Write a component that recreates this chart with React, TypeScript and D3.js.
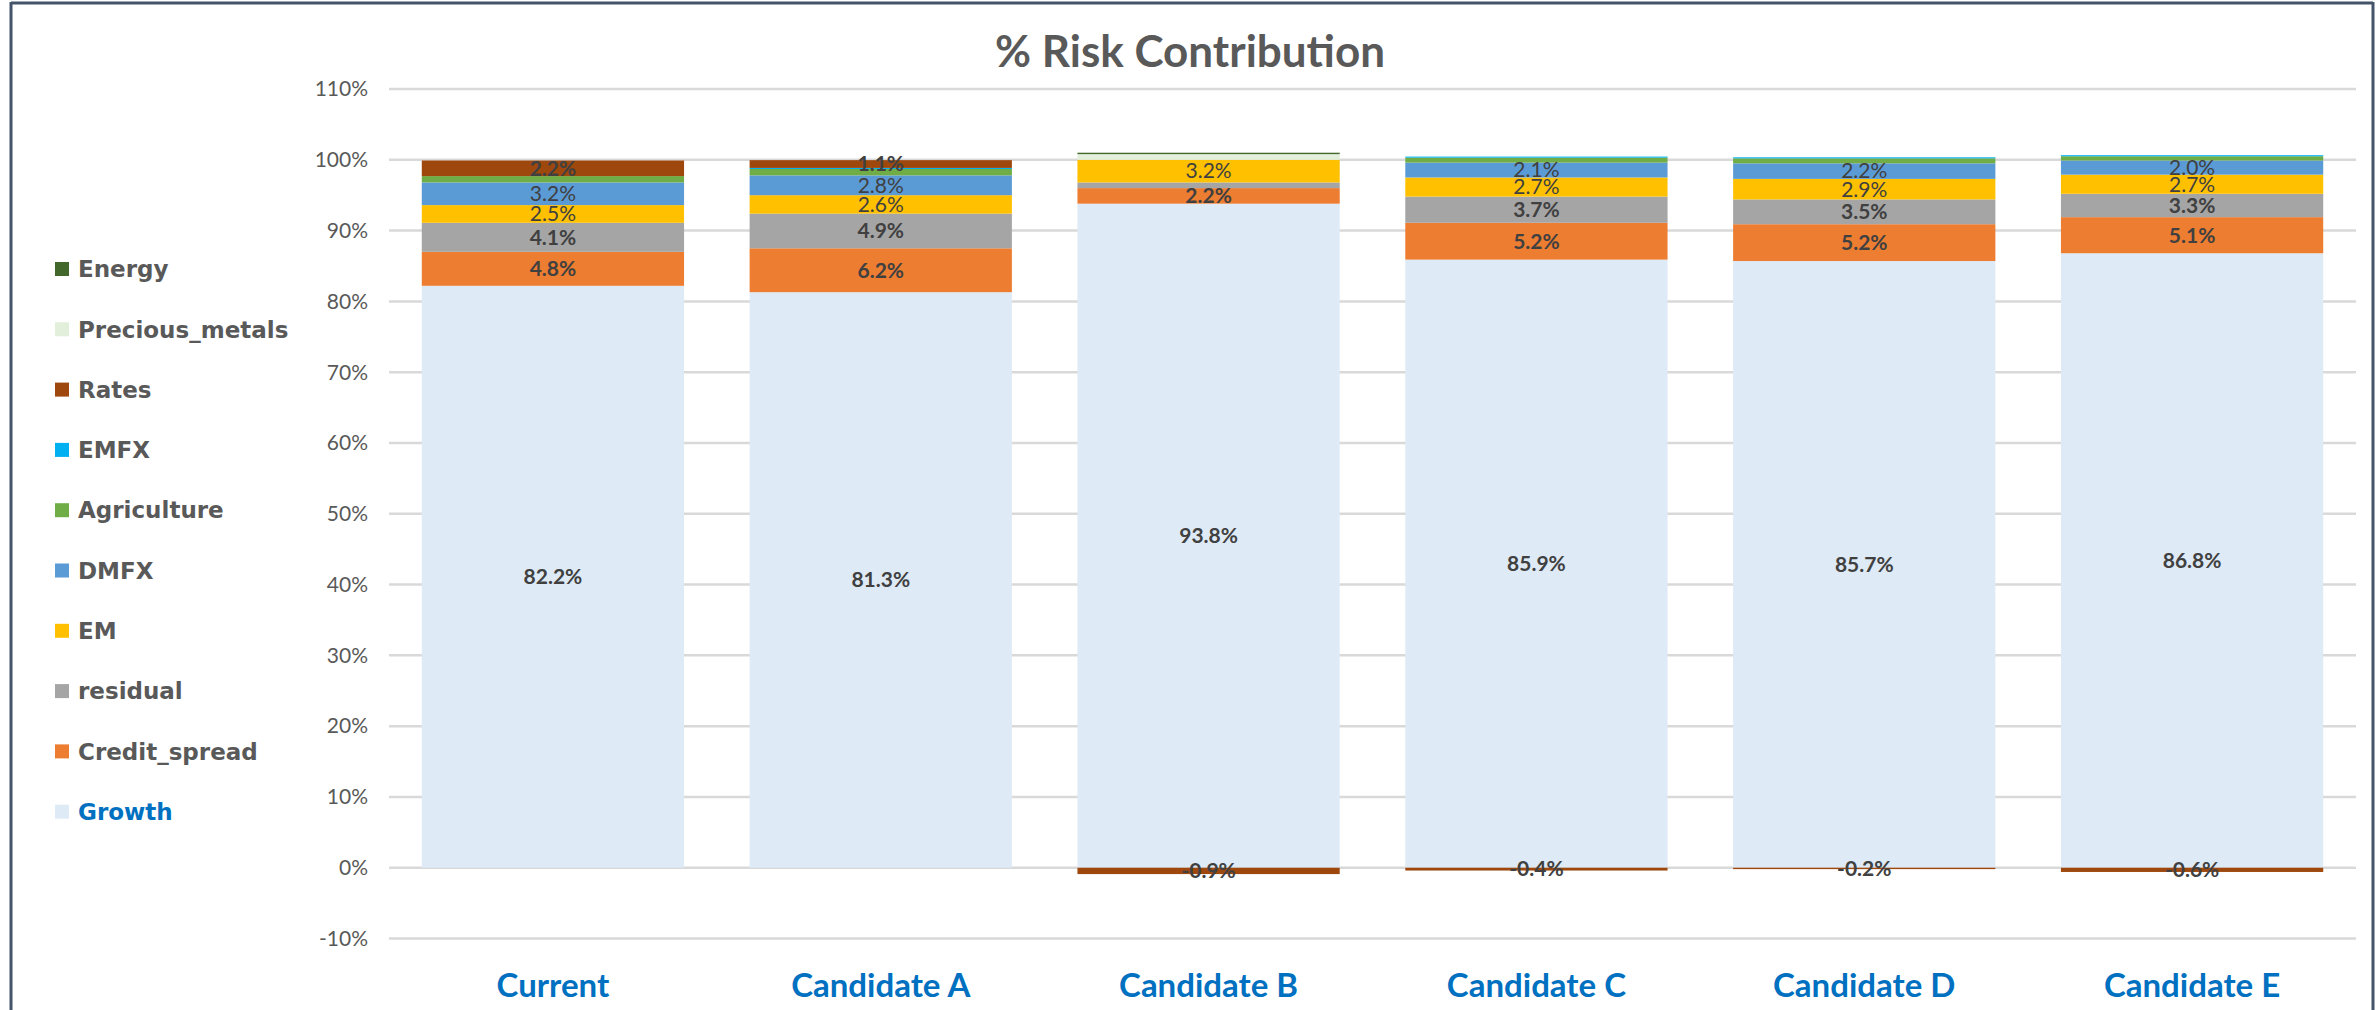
import React from 'react';
import * as d3 from 'd3';

const categories = ['Current', 'Candidate A', 'Candidate B', 'Candidate C', 'Candidate D', 'Candidate E'];
const seriesNames = ['Growth', 'Credit_spread', 'residual', 'EM', 'DMFX', 'Agriculture', 'EMFX', 'Rates', 'Precious_metals', 'Energy'];
const growth = [82.2, 81.3, 93.8, 85.9, 85.7, 86.8];
const creditSpread = [4.8, 6.2, 2.2, 5.2, 5.2, 5.1];
const residual = [4.1, 4.9, 0.8, 3.7, 3.5, 3.3];
const em = [2.5, 2.6, 3.2, 2.7, 2.9, 2.7];
const dmfx = [3.2, 2.8, 0, 2.1, 2.2, 2.0];
const agriculture = [0.9, 0.9, 0, 0.7, 0.7, 0.6];
const emfx = [0, 0.15, 0, 0.15, 0.15, 0.15];
const rates = [2.2, 1.1, -0.9, -0.4, -0.2, -0.6];
const preciousMetals = [0, 0, 0.8, 0, 0, 0];
const energy = [0, 0, 0.2, 0, 0, 0];
const yTicks = [-10, 0, 10, 20, 30, 40, 50, 60, 70, 80, 90, 100, 110];
const seriesColors = ['#DEEAF6', '#ED7D31', '#A5A5A5', '#FFC000', '#5B9BD5', '#70AD47', '#00B0F0', '#9E480E', '#E2EFDA', '#43682B'];
const boldLabelSeries = ['Growth', 'Credit_spread', 'residual', 'Rates'];
const legendOrder = ['Energy', 'Precious_metals', 'Rates', 'EMFX', 'Agriculture', 'DMFX', 'EM', 'residual', 'Credit_spread', 'Growth'];
const title = '% Risk Contribution';

const seriesValues = [growth, creditSpread, residual, em, dmfx, agriculture, emfx, rates, preciousMetals, energy];

export default function App() {
  const W = 2379;
  const H = 1010;
  const rows = categories.map((c, i) => {
    const r: any = { category: c };
    seriesNames.forEach((s, k) => (r[s] = seriesValues[k][i]));
    return r;
  });
  const stack = d3.stack<any>().keys(seriesNames).offset(d3.stackOffsetDiverging);
  const layers = stack(rows);

  const x = d3.scaleBand<string>().domain(categories).range([389, 2356]).paddingInner(0.2).paddingOuter(0.1);
  const y = d3.scaleLinear().domain([-10, 110]).range([938.5, 89]);
  const color = d3.scaleOrdinal<string, string>().domain(seriesNames).range(seriesColors);
  const f1 = d3.format('.1f');
  const fmt = (v: number) => (v < 0 ? '-' : '') + f1(Math.abs(v)) + '%';
  const bw = x.bandwidth();

  const labelFont = 'Lato, "Open Sans", sans-serif';

  return (
    <svg width={W} height={H} style={{ position: 'absolute', left: 0, top: 0, background: '#fff' }}>
      <rect x={0} y={0} width={W} height={H} fill="#fff" />
      {/* frame */}
      <line x1={11} y1={3} x2={2373} y2={3} stroke="#44546A" strokeWidth={3} />
      <line x1={11} y1={2} x2={11} y2={H} stroke="#44546A" strokeWidth={3} />
      <line x1={2373} y1={2} x2={2373} y2={H} stroke="#44546A" strokeWidth={3} />

      <text x={1190} y={67} textAnchor="middle" fontFamily={labelFont} fontWeight={700} fontSize={44} fill="#595959">
        {title}
      </text>

      {/* gridlines + y ticks */}
      {yTicks.map((t) => (
        <g key={t}>
          <line x1={389} x2={2356} y1={y(t)} y2={y(t)} stroke="#D9D9D9" strokeWidth={2.5} />
          <text x={368} y={y(t)} dy="0.35em" textAnchor="end" fontFamily={labelFont} fontSize={21} fill="#595959">
            {t + '%'}
          </text>
        </g>
      ))}

      {/* bars */}
      {layers.map((layer) => (
        <g key={layer.key} fill={color(layer.key)}>
          {layer.map((d, i) => {
            const y0 = y(d[0]);
            const y1 = y(d[1]);
            const h = Math.abs(y0 - y1);
            if (h <= 0) return null;
            return <rect key={i} x={x(d.data.category)} y={Math.min(y0, y1)} width={bw} height={h} />;
          })}
        </g>
      ))}

      {/* data labels */}
      {layers.map((layer) => (
        <g key={'l' + layer.key}>
          {layer.map((d, i) => {
            const v = d.data[layer.key] as number;
            const show = layer.key === 'Rates' ? v !== 0 : Math.abs(v) >= 1;
            if (!show) return null;
            const cx = (x(d.data.category) as number) + bw / 2;
            const cy = (y(d[0]) + y(d[1])) / 2;
            return (
              <text
                key={i}
                x={cx}
                y={cy}
                dy="0.35em"
                textAnchor="middle"
                fontFamily={labelFont}
                fontSize={21}
                fontWeight={boldLabelSeries.includes(layer.key) ? 700 : 400}
                fill="#404040"
              >
                {fmt(v)}
              </text>
            );
          })}
        </g>
      ))}

      {/* category labels */}
      {categories.map((c) => (
        <text
          key={c}
          x={(x(c) as number) + bw / 2}
          y={997}
          textAnchor="middle"
          fontFamily={labelFont}
          fontWeight={700}
          fontSize={33}
          fill="#0070C0"
        >
          {c}
        </text>
      ))}

      {/* legend */}
      {legendOrder.map((s, i) => {
        const cy = 269 + i * 60.3;
        return (
          <g key={s}>
            <rect x={55} y={cy - 7} width={14} height={14} fill={color(s)} />
            <text
              x={78}
              y={cy}
              dy="0.36em"
              fontFamily='"DejaVu Sans", sans-serif'
              fontWeight={700}
              fontSize={23}
              fill={s === 'Growth' ? '#0070C0' : '#595959'}
            >
              {s}
            </text>
          </g>
        );
      })}
    </svg>
  );
}
